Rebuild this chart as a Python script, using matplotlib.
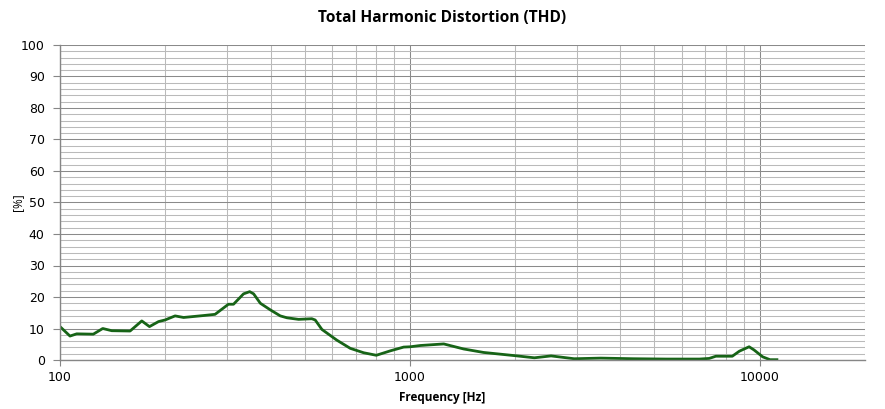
import matplotlib
matplotlib.use("Agg")
import matplotlib.pyplot as plt
from matplotlib.ticker import FixedLocator, NullFormatter

freq = [100, 106.8, 111.6, 124.5, 132.5, 140.6, 158.6, 171.3, 180.2, 191.3, 199.6,
        213.3, 225.5, 256.5, 277.5, 303, 313.3, 334.7, 348.5, 357.6, 373.9, 399.4,
        426.3, 445.4, 480.8, 524.6, 536.4, 560.6, 618.5, 675.6, 738, 802, 879, 960,
        1003, 1071, 1250, 1425, 1624, 1987, 2270, 2534, 2949, 3513, 4362, 5418,
        6724, 7173, 7494, 8350, 8748, 9327, 9632, 10200, 10700, 11200]
thd = [10.6, 7.6, 8.3, 8.2, 10.0, 9.3, 9.2, 12.4, 10.6, 12.2, 12.7,
       14.0, 13.5, 14.1, 14.5, 17.7, 17.7, 21.0, 21.7, 21.0, 18.0, 15.9,
       14.0, 13.4, 12.9, 13.1, 12.7, 9.7, 6.3, 3.7, 2.3, 1.5, 2.9, 4.1,
       4.2, 4.6, 5.1, 3.5, 2.4, 1.4, 0.7, 1.3, 0.4, 0.6, 0.4, 0.3,
       0.3, 0.5, 1.2, 1.2, 2.8, 4.2, 3.2, 1.0, 0.1, 0.1]
x_major = [100, 1000, 10000]
y_major = list(range(0, 101, 10))

fig = plt.figure(figsize=(8.85, 4.09), dpi=100)
ax = fig.add_axes([60/885, 49/409, 805/885, 315/409])
ax.set_xscale("log")
ax.set_xlim(100, 20000)
ax.set_ylim(0, 100)

minor_x = [m * d for d in (100, 1000, 10000) for m in range(2, 10) if m * d <= 20000]
ax.xaxis.set_major_locator(FixedLocator(x_major))
ax.xaxis.set_minor_locator(FixedLocator(minor_x))
ax.xaxis.set_minor_formatter(NullFormatter())
ax.set_xticklabels([str(v) for v in x_major])
ax.yaxis.set_major_locator(FixedLocator(y_major))
ax.yaxis.set_minor_locator(FixedLocator(list(range(0, 101, 2))))

ax.grid(which="minor", color="#bababa", lw=0.75, snap=True)
ax.grid(which="major", color="#8a8a8a", lw=0.75, snap=True)
ax.set_axisbelow(True)
for s in ("top", "right"):
    ax.spines[s].set_visible(False)
for s in ("left", "bottom"):
    ax.spines[s].set_color("#868686")
    ax.spines[s].set_linewidth(1.0)
ax.tick_params(which="major", length=5, color="#868686", labelsize=9, pad=6)
ax.tick_params(which="minor", length=0)
ax.tick_params(axis="x", which="major", length=4, pad=4)

ax.plot(freq, thd, color="#176417", lw=2.0, solid_joinstyle="round")

fig.text(0.5, 1 - 18/409, "Total Harmonic Distortion (THD)", ha="center", va="center",
         fontsize=11.2, fontweight="bold", family="Open Sans")
fig.text(0.5, 1 - 397/409, "Frequency [Hz]", ha="center", va="center",
         fontsize=8.5, fontweight="bold", family="Open Sans")
fig.text(18/885, 1 - 202/409, "[%]", ha="center", va="center", rotation=90,
         fontsize=8.5, family="Open Sans")

fig.savefig("out.png", dpi=100)
